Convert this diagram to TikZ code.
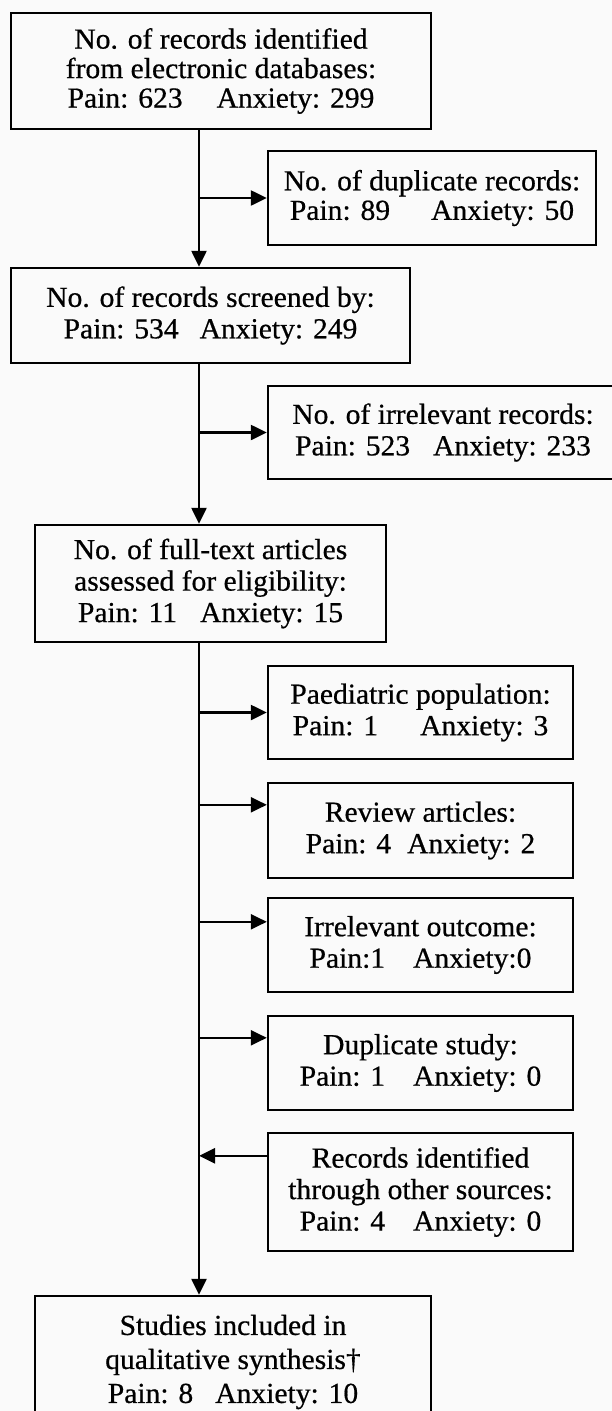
\documentclass[tikz,border=0pt]{standalone}
\usepackage{fontspec}
\setmainfont[FakeStretch=1.02,FakeBold=0.6]{Liberation Serif}
\usetikzlibrary{arrows.meta}
\definecolor{bg}{RGB}{250,250,250}
\begin{document}
\begin{tikzpicture}[x=1pt,y=-1pt,
  box/.style={draw=black, line width=2.4pt, align=center, inner sep=0pt,
    font=\fontsize{29}{31.5}\selectfont},
  tight/.style={font=\fontsize{29}{29.5}\selectfont},
  loose/.style={font=\fontsize{29}{34}\selectfont},
  arr/.style={line width=2.4pt, -{Triangle[length=16pt,width=15pt]}}]
\useasboundingbox (0,0) rectangle (612,1411);
\clip (0,0) rectangle (612,1411);
\fill[bg] (0,0) rectangle (612,1411);
\coordinate (spine) at (199,0);

\node[box,tight,minimum width=420pt,minimum height=116pt] (B1) at (221,71)
  {No. of records identified\\from electronic databases:\\Pain: 623\hspace{34pt}Anxiety: 299};
\node[box,tight,minimum width=328pt,minimum height=94pt] (B2) at (432,198)
  {No. of duplicate records:\\Pain: 89\hspace{41pt}Anxiety: 50};
\node[box,minimum width=399pt,minimum height=95pt] (B3) at (210.5,315.5)
  {No. of records screened by:\\Pain: 534\hspace{21pt}Anxiety: 249};
\node[box,minimum width=350pt,minimum height=93pt] (B4) at (443,432.5)
  {No. of irrelevant records:\\Pain: 523\hspace{23pt}Anxiety: 233};
\node[box,minimum width=351pt,minimum height=117pt] (B5) at (210.5,583.5)
  {No. of full-text articles\\assessed for eligibility:\\Pain: 11\hspace{23pt}Anxiety: 15};
\node[box,minimum width=305pt,minimum height=93pt] (B6) at (420.5,712.5)
  {Paediatric population:\\Pain: 1\hspace{42pt}Anxiety: 3};
\node[box,minimum width=305pt,minimum height=95pt] (B7) at (420.5,830.5)
  {Review articles:\\Pain: 4\hspace{16pt}Anxiety: 2};
\node[box,minimum width=305pt,minimum height=94pt] (B8) at (420.5,945)
  {Irrelevant outcome:\\Pain:1\hspace{28pt}Anxiety:0};
\node[box,minimum width=305pt,minimum height=94pt] (B9) at (420.5,1063)
  {Duplicate study:\\Pain: 1\hspace{28pt}Anxiety: 0};
\node[box,minimum width=305pt,minimum height=118pt] (B10) at (420.5,1192)
  {Records identified\\through other sources:\\Pain: 4\hspace{28pt}Anxiety: 0};
\node[box,loose,minimum width=396pt,minimum height=132pt] (B11) at (233,1362)
  {Studies included in\\qualitative synthesis†\\Pain: 8\hspace{22pt}Anxiety: 10};

\coordinate (a7) at ([yshift=-23pt]B7.north west);
\coordinate (a8) at ([yshift=-25pt]B8.north west);
\coordinate (a9) at ([yshift=-23pt]B9.north west);
\coordinate (a10) at ([yshift=-24pt]B10.north west);

\draw[arr] (spine |- B1.south) -- (spine |- B3.north);
\draw[arr] (spine |- B3.south) -- (spine |- B5.north);
\draw[arr] (spine |- B5.south) -- (spine |- B11.north);

\draw[arr] (spine |- B2.west) -- (B2.west);
\draw[arr] (spine |- B4.west) -- (B4.west);
\draw[arr] (spine |- B6.west) -- (B6.west);
\draw[arr] (spine |- a7) -- (a7);
\draw[arr] (spine |- a8) -- (a8);
\draw[arr] (spine |- a9) -- (a9);
\draw[arr] (a10) -- (spine |- a10);
\end{tikzpicture}
\end{document}
